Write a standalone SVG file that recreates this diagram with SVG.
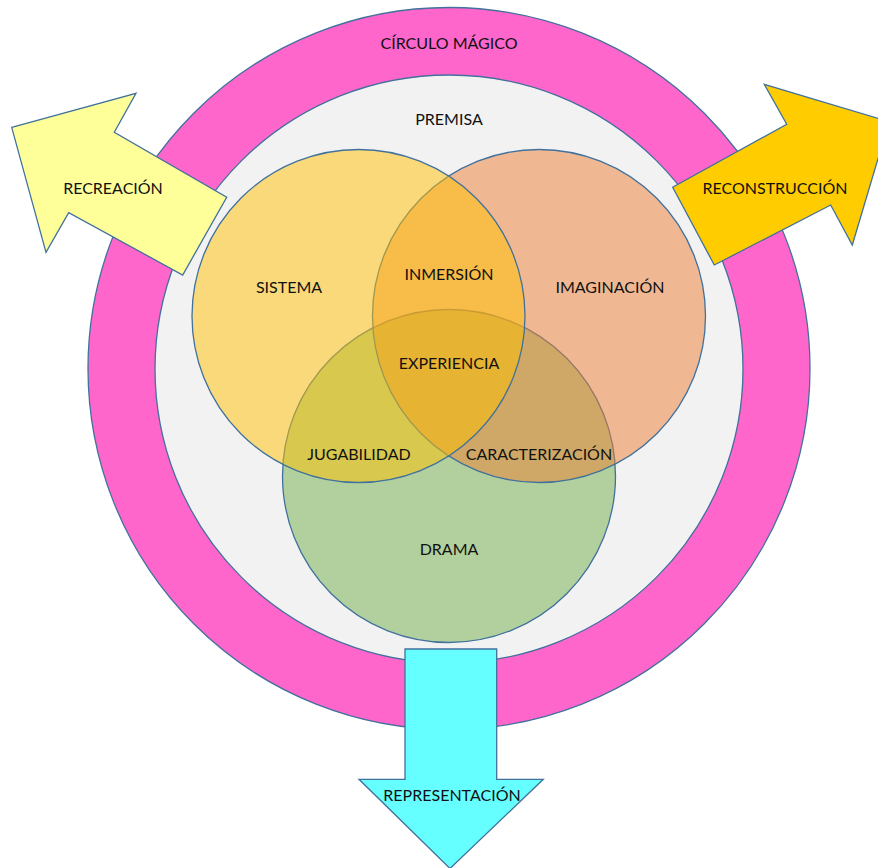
<svg xmlns="http://www.w3.org/2000/svg" width="878" height="868" viewBox="0 0 878 868">
<style>
.s{stroke:#41719C;stroke-width:1.3}
.v{stroke:#41719C;stroke-width:1.3;fill-opacity:0.5}
text{font-family:Lato,"Open Sans","Liberation Sans",sans-serif;font-size:16px;fill:#111;text-anchor:middle;dominant-baseline:central}
</style>
<rect width="878" height="868" fill="#fff"/>
<g id="circulo-magico">
<circle class="s" cx="449" cy="368.5" r="361" fill="#FF66CC"/>
<text x="449" y="42">CÍRCULO MÁGICO</text>
</g>
<g id="premisa">
<circle class="s" cx="449" cy="369" r="294" fill="#F2F2F2"/>
<text x="449" y="118">PREMISA</text>
</g>
<g id="drama">
<circle class="v" cx="449" cy="476" r="166.5" fill="#70AD47"/>
</g>
<g id="imaginacion">
<circle class="v" cx="539" cy="316" r="166.5" fill="#ED7D31"/>
</g>
<g id="sistema">
<circle class="v" cx="358.5" cy="316" r="166.5" fill="#FFC000"/>
</g>
<g id="labels">
<text x="289" y="286">SISTEMA</text>
<text x="610" y="286">IMAGINACIÓN</text>
<text x="449" y="273">INMERSIÓN</text>
<text x="449" y="362">EXPERIENCIA</text>
<text x="359" y="453">JUGABILIDAD</text>
<text x="539" y="453">CARACTERIZACIÓN</text>
<text x="449" y="548">DRAMA</text>
</g>
<g id="recreacion">
<polygon class="s" fill="#FFFF99" points="11.7,127.3 136,93.3 114.3,132.3 226.7,197.3 182.7,275 68.7,212.7 46,252.3"/>
<text x="113" y="187">RECREACIÓN</text>
</g>
<g id="reconstruccion">
<polygon class="s" fill="#FFCC00" points="889,121.7 852.3,245 830.7,205 714.3,265 672.7,187.3 786.7,124.3 764.3,84.3"/>
<text x="775" y="187">RECONSTRUCCIÓN</text>
</g>
<g id="representacion">
<polygon class="s" fill="#66FFFF" points="405,649 496.7,649 496.7,779.3 543.3,779.3 450,868.5 359,779.3 405,779.3"/>
<text x="452" y="794">REPRESENTACIÓN</text>
</g>
<g id="connectors"></g>
</svg>
